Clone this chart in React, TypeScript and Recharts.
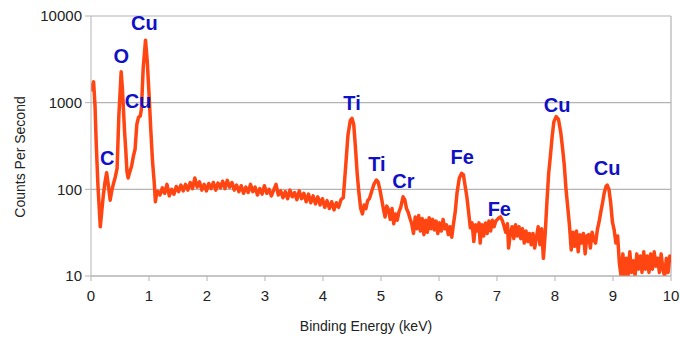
import React from 'react';
import {
  LineChart,
  Line,
  XAxis,
  YAxis,
  CartesianGrid,
  ReferenceLine,
  ReferenceDot,
} from 'recharts';

// Spectrum points as [energy keV, counts per second], split by region
const lowEnergyRegion: [number, number][] = [
  [0.0, 1350], [0.02, 1550], [0.045, 1740], [0.07, 900], [0.09, 340],
  [0.12, 110], [0.16, 37], [0.19, 60], [0.21, 82], [0.24, 120],
  [0.27, 155], [0.3, 110], [0.33, 75], [0.36, 98], [0.39, 118],
  [0.42, 140], [0.45, 175], [0.48, 700], [0.52, 2270], [0.54, 1500],
  [0.56, 820], [0.58, 450], [0.6, 280], [0.62, 160], [0.64, 135],
  [0.67, 160], [0.7, 185], [0.73, 240], [0.76, 290], [0.79, 560],
  [0.82, 680], [0.85, 700], [0.87, 850], [0.9, 2500], [0.94, 5250],
  [0.97, 3000], [1.0, 1280], [1.03, 500], [1.06, 215], [1.09, 120],
  [1.11, 72], [1.13, 88],
];

const backgroundRegion: [number, number][] = [
  [1.15, 95], [1.19, 86], [1.23, 104], [1.27, 90], [1.31, 114],
  [1.35, 84], [1.39, 100], [1.43, 88], [1.47, 108], [1.51, 94],
  [1.55, 112], [1.59, 96], [1.63, 114], [1.67, 98], [1.71, 120],
  [1.75, 102], [1.79, 135], [1.83, 106], [1.87, 122], [1.91, 98],
  [1.95, 114], [1.99, 96], [2.03, 117], [2.07, 102], [2.11, 120],
  [2.15, 98], [2.19, 118], [2.23, 104], [2.27, 124], [2.31, 102],
  [2.35, 127], [2.39, 106], [2.43, 120], [2.47, 98], [2.51, 112],
  [2.55, 94], [2.59, 110], [2.63, 90], [2.67, 106], [2.71, 92],
  [2.75, 114], [2.79, 94], [2.83, 106], [2.87, 86], [2.91, 102],
  [2.95, 88], [2.99, 110], [3.03, 90], [3.07, 100], [3.11, 84],
  [3.15, 98], [3.19, 114], [3.23, 86], [3.27, 96], [3.31, 80],
  [3.35, 94], [3.39, 78], [3.43, 98], [3.47, 82], [3.51, 92],
  [3.55, 76], [3.59, 96], [3.63, 78], [3.67, 90], [3.71, 72],
  [3.75, 88], [3.79, 70], [3.83, 84], [3.87, 68], [3.91, 82],
  [3.95, 66], [3.99, 78], [4.03, 62], [4.07, 74], [4.11, 60],
  [4.15, 72], [4.19, 58], [4.23, 70], [4.27, 62], [4.31, 76],
];

const tiCrFeRegion: [number, number][] = [
  [4.35, 80], [4.39, 180], [4.43, 420], [4.47, 620], [4.5, 660],
  [4.53, 560], [4.56, 300], [4.59, 150], [4.62, 90], [4.65, 60],
  [4.68, 52], [4.71, 66], [4.74, 60], [4.77, 74], [4.8, 78],
  [4.84, 95], [4.88, 115], [4.92, 128], [4.95, 122], [4.98, 100],
  [5.01, 78], [5.04, 60], [5.07, 48], [5.1, 64], [5.13, 58],
  [5.16, 45], [5.19, 60], [5.22, 40], [5.25, 52], [5.28, 44],
  [5.31, 55], [5.34, 62], [5.38, 82], [5.41, 76], [5.44, 60],
  [5.47, 54], [5.5, 46], [5.53, 40], [5.56, 31], [5.59, 48],
  [5.62, 35], [5.65, 50], [5.68, 33], [5.71, 46], [5.74, 30],
  [5.77, 44], [5.8, 32], [5.83, 47], [5.86, 35], [5.89, 45],
  [5.92, 34], [5.95, 43], [5.98, 31], [6.01, 41], [6.04, 33],
  [6.07, 45], [6.1, 35], [6.13, 39], [6.16, 30], [6.19, 37],
  [6.22, 28], [6.25, 40], [6.28, 55], [6.31, 90], [6.35, 135],
  [6.39, 153], [6.42, 148], [6.45, 110], [6.48, 82], [6.51, 55],
  [6.54, 36], [6.57, 41], [6.6, 25], [6.63, 39], [6.66, 33],
  [6.69, 41], [6.71, 24], [6.74, 39], [6.77, 29], [6.8, 41],
  [6.83, 31], [6.86, 43], [6.89, 33], [6.92, 44], [6.95, 37],
  [6.98, 43], [7.02, 46], [7.06, 48], [7.09, 44], [7.12, 38],
  [7.15, 32], [7.18, 40], [7.2, 21], [7.23, 31], [7.26, 37],
  [7.29, 27], [7.32, 39], [7.35, 29], [7.38, 37], [7.41, 27],
  [7.44, 35], [7.47, 24], [7.5, 33], [7.53, 25], [7.56, 31],
  [7.59, 23], [7.62, 31], [7.65, 21], [7.68, 28], [7.71, 37],
  [7.74, 23], [7.77, 35], [7.8, 16], [7.83, 30], [7.86, 70],
];

const cuKRegion: [number, number][] = [
  [7.89, 150], [7.92, 240], [7.95, 400], [7.98, 600], [8.02, 690],
  [8.06, 640], [8.1, 450], [8.13, 300], [8.16, 190], [8.19, 100],
  [8.22, 62], [8.25, 38], [8.28, 20], [8.31, 32], [8.34, 22],
  [8.37, 33], [8.4, 19], [8.43, 30], [8.46, 24], [8.49, 31],
  [8.52, 18], [8.55, 29], [8.58, 30], [8.61, 21], [8.64, 32],
  [8.67, 26], [8.7, 24], [8.73, 34], [8.76, 42], [8.79, 55],
  [8.82, 70], [8.85, 92], [8.88, 108], [8.9, 112], [8.93, 100],
  [8.96, 70], [8.99, 42], [9.02, 34], [9.05, 24], [9.08, 29],
  [9.11, 14], [9.14, 10], [9.17, 18], [9.2, 10], [9.23, 16],
  [9.26, 10], [9.29, 19], [9.32, 11], [9.35, 15], [9.38, 10],
  [9.41, 18], [9.44, 12], [9.47, 17], [9.5, 11], [9.53, 19],
  [9.56, 12], [9.59, 17], [9.62, 11], [9.65, 18], [9.68, 12],
  [9.71, 19], [9.74, 13], [9.77, 16], [9.8, 11], [9.83, 18],
  [9.86, 12], [9.89, 10], [9.92, 16], [9.95, 11], [9.98, 17],
  [10.0, 14],
];

// Element labels: symbol, energy, label height in counts
const peakElements = ['C', 'O', 'Cu', 'Cu', 'Ti', 'Ti', 'Cr', 'Fe', 'Fe', 'Cu', 'Cu'];
const peakEnergies = [0.28, 0.52, 0.92, 0.81, 4.5, 4.93, 5.385, 6.4, 7.04, 8.035, 8.9];
const peakLabelCounts = [230, 3500, 8200, 1040, 1000, 196, 125, 236, 59, 935, 176];

const xTicks = [0, 1, 2, 3, 4, 5, 6, 7, 8, 9, 10];
const yTicks = [10, 100, 1000, 10000];

const FONT = '"Liberation Sans", Arial, sans-serif';
const GRID = '#b3b3b3';
const LINE_COLOR = '#ff4512';
const LABEL_COLOR = '#1010c4';

const data = [
  ...lowEnergyRegion,
  ...backgroundRegion,
  ...tiCrFeRegion,
  ...cuKRegion,
].map(([energy, counts]) => ({ energy, counts }));

const peaks = peakElements.map((element, i) => ({
  element,
  energy: peakEnergies[i],
  counts: peakLabelCounts[i],
}));

export default function App() {
  return (
    <div style={{ position: 'absolute', left: 0, top: 0, fontFamily: FONT }}>
      <LineChart
        width={680}
        height={339}
        data={data}
        margin={{ top: 16, right: 9, bottom: 33, left: 0 }}
      >
        <CartesianGrid vertical={false} stroke={GRID} strokeWidth={1.2} />
        <ReferenceLine x={10} stroke={GRID} strokeWidth={1.2} />
        <XAxis
          dataKey="energy"
          type="number"
          domain={[0, 10]}
          ticks={xTicks}
          allowDataOverflow
          stroke={GRID}
          tickSize={5}
          tickMargin={9}
          tick={{ fill: '#222', fontSize: 15, fontFamily: FONT }}
          label={{
            value: 'Binding Energy (keV)',
            content: (props: any) => {
              const vb = props.viewBox;
              return (
                <text
                  x={vb.x + vb.width / 2 - 15}
                  y={vb.y + vb.height + 25}
                  textAnchor="middle"
                  fill="#222"
                  fontSize={14}
                  fontFamily={FONT}
                >
                  Binding Energy (keV)
                </text>
              );
            },
          }}
        />
        <YAxis
          scale="log"
          domain={[10, 10000]}
          ticks={yTicks}
          allowDataOverflow
          width={91}
          stroke={GRID}
          tickSize={6}
          tickMargin={3}
          tick={{ fill: '#222', fontSize: 15, fontFamily: FONT }}
          label={{
            value: 'Counts Per Second',
            content: (props: any) => {
              const vb = props.viewBox;
              const cx = vb.x + 20;
              const cy = vb.y + vb.height / 2 + 11;
              return (
                <text
                  x={cx}
                  y={cy}
                  transform={`rotate(-90 ${cx} ${cy})`}
                  textAnchor="middle"
                  dominantBaseline="central"
                  fill="#222"
                  fontSize={14}
                  fontFamily={FONT}
                >
                  Counts Per Second
                </text>
              );
            },
          }}
        />
        <Line
          type="linear"
          dataKey="counts"
          stroke={LINE_COLOR}
          strokeWidth={3.5}
          strokeLinejoin="round"
          dot={false}
          isAnimationActive={false}
        />
        {peaks.map((p, i) => (
          <ReferenceDot
            key={i}
            x={p.energy}
            y={p.counts}
            r={0}
            ifOverflow="visible"
            shape={(props: any) => (
              <text
                x={props.cx}
                y={props.cy}
                textAnchor="middle"
                dominantBaseline="central"
                fill={LABEL_COLOR}
                fontSize={20}
                fontWeight="bold"
                fontFamily={FONT}
              >
                {p.element}
              </text>
            )}
          />
        ))}
      </LineChart>
    </div>
  );
}
